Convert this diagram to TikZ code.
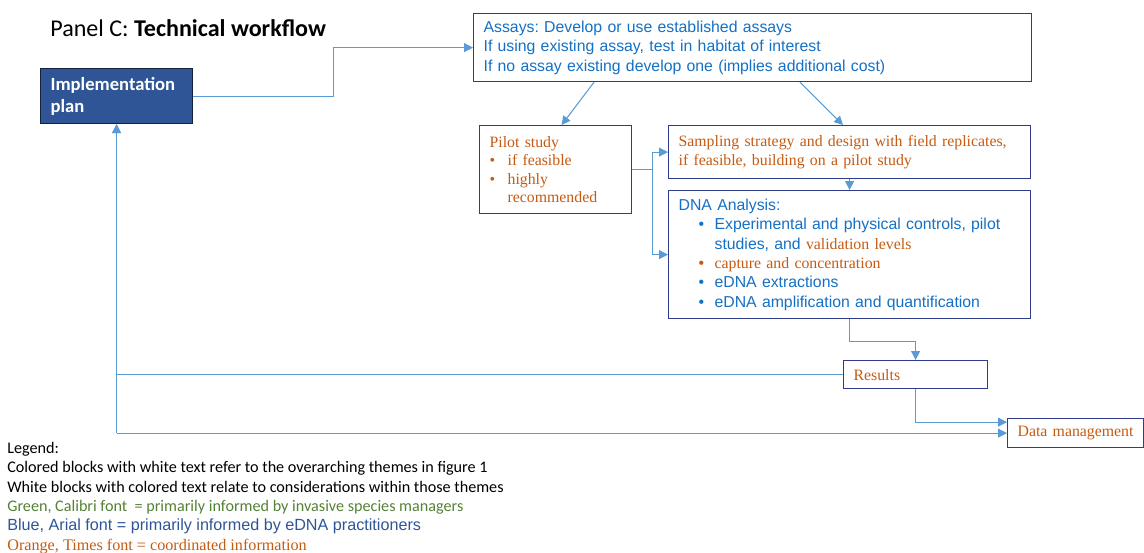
\documentclass[tikz,border=0pt]{standalone}
\usepackage{fontspec}
\setmainfont{Carlito}
\newfontfamily\arialf{Liberation Sans}
\newfontfamily\timesf{Liberation Serif}
\usetikzlibrary{calc,arrows.meta}
\frenchspacing

\definecolor{planc}{HTML}{2F5597}
\definecolor{boxc}{HTML}{2F3C8C}
\definecolor{linec}{HTML}{5B9BD5}
\definecolor{bluet}{HTML}{1470C4}
\definecolor{oranget}{HTML}{C55A11}
\definecolor{greent}{HTML}{548235}
\definecolor{legblue}{HTML}{2F5597}

% bullets for the white blocks
\newcommand{\pbul}[1]{\makebox[0.36cm][l]{\textbullet}#1}
\newcommand{\dbul}[1]{\hspace*{0.4cm}\makebox[0.32cm][l]{\textbullet}#1}

\tikzset{
  box/.style={draw=boxc, line width=0.7pt, anchor=north west, align=left,
    inner xsep=0.2cm, inner ysep=0pt},
  arialtxt/.style={text=bluet, font=\arialf\fontsize{9}{11}\selectfont},
  timestxt/.style={text=oranget, font=\timesf\fontsize{9}{10.6}\selectfont},
  conn/.style={draw=linec, line width=0.6pt, -{Triangle[length=5pt,width=5pt]}},
}

\begin{document}
\begin{tikzpicture}[x=0.02cm,y=-0.02cm]
\useasboundingbox (0,0) rectangle (1144,552);

% title
\node[anchor=west, inner sep=0, font=\fontsize{13.7}{16}\selectfont] (title) at (50,28)
  {Panel C: \textbf{Technical workflow}};

% blocks
\node[box, fill=planc, draw=black!60!planc, text=white,
  font=\bfseries\fontsize{10.6}{12.5}\selectfont,
  minimum width=3.04cm, minimum height=1.1cm, text width=2.64cm] (plan) at (40,68)
  {Implementation\\plan};
\node[box, arialtxt, minimum width=11.16cm, minimum height=1.36cm, text width=10.76cm] (assays) at (473,13)
  {Assays: Develop or use established assays\\
   If using existing assay, test in habitat of interest\\
   If no assay existing develop one (implies additional cost)};
\node[box, timestxt, minimum width=3.04cm, minimum height=1.76cm, text width=2.64cm] (pilot) at (479,125)
  {Pilot study\\
   \pbul{if feasible}\\
   \pbul{highly}\\
   \hspace*{0.36cm}recommended};
\node[box, timestxt, minimum width=7.24cm, minimum height=1.06cm, text width=6.84cm] (sampling) at (668,125)
  {Sampling strategy and design with field replicates,\\
   if feasible, building on a pilot study};
\node[box, arialtxt, minimum width=7.24cm, minimum height=2.56cm, text width=6.84cm] (dna) at (668,190)
  {DNA Analysis:\\
   \dbul{Experimental and physical controls, pilot}\\
   \hspace*{0.72cm}studies, and {\timesf\color{oranget}validation levels}\\
   {\color{oranget}\dbul{\timesf capture and concentration}}\\
   \dbul{eDNA extractions}\\
   \dbul{eDNA amplification and quantification}};
\node[box, timestxt, minimum width=2.88cm, minimum height=0.56cm, text width=2.48cm] (results) at (843,360)
  {Results};
\node[box, timestxt, minimum width=2.72cm, minimum height=0.58cm, text width=2.32cm] (data) at (1007,418)
  {Data management};

% connectors
\draw[conn] (plan.east) -- ++(140,0) |- (assays.west);
\draw[conn] ($(assays.south west)+(121,0)$) -- ($(pilot.north)+(6,0)$);
\draw[conn] ($(assays.south west)+(327,0)$) -- ($(sampling.north west)+(175,0)$);
\coordinate (fork) at ($(pilot.east)+(20,0)$);
\draw[conn] (pilot.east) -- (fork) |- (sampling.west);
\draw[conn] (fork) |- (dna.west);
\draw[conn] (sampling.south) -- (dna.north);
\draw[conn] (dna.south) -- ++(0,22) -| (results.north);
\draw[conn] (results.west) -| (plan.south);
\draw[conn] (results.south) |- ($(data.west)+(0,-11)$);
\coordinate (corner) at (plan.south |- data.west);
\draw[conn] (corner) -- (plan.south);
\draw[conn] (corner) -- (data.west);

% legend
\node[anchor=north west, inner sep=0, align=left, font=\fontsize{9.2}{11}\selectfont] (legend) at (7,442)
  {Legend:\\
   Colored blocks with white text refer to the overarching themes in figure 1\\
   White blocks with colored text relate to considerations within those themes\\
   {\color{greent}Green, Calibri font\ \ = primarily informed by invasive species managers}\\
   {\color{legblue}\arialf Blue, Arial font = primarily informed by eDNA practitioners}\\
   {\color{oranget}\timesf Orange, Times font = coordinated information}};
\end{tikzpicture}
\end{document}
